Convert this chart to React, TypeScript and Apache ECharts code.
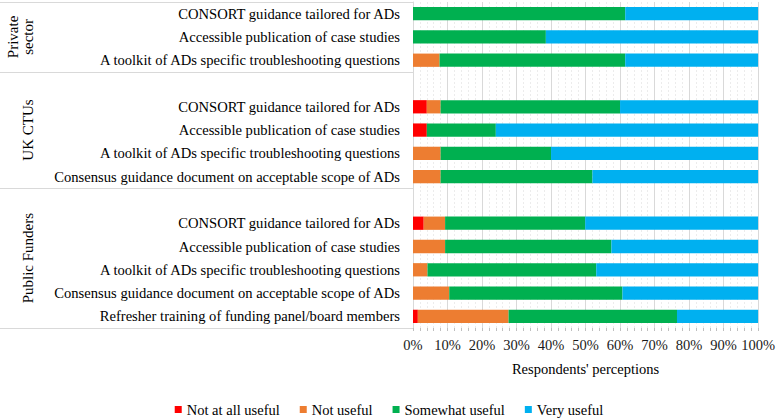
import React, { useEffect, useRef } from "react";
import * as echarts from "echarts";

const rowLabels: string[] = [
  "CONSORT guidance tailored for ADs",
  "Accessible publication of case studies",
  "A toolkit of ADs specific troubleshooting questions",
  "",
  "CONSORT guidance tailored for ADs",
  "Accessible publication of case studies",
  "A toolkit of ADs specific troubleshooting questions",
  "Consensus guidance document on acceptable scope of ADs",
  "",
  "CONSORT guidance tailored for ADs",
  "Accessible publication of case studies",
  "A toolkit of ADs specific troubleshooting questions",
  "Consensus guidance document on acceptable scope of ADs",
  "Refresher training of funding panel/board members",
];

const groups = [
  { name: "Private\nsector", first: 0, last: 2 },
  { name: "UK CTUs", first: 3, last: 7 },
  { name: "Public Funders", first: 8, last: 13 },
];

const seriesNames = ["Not at all useful", "Not useful", "Somewhat useful", "Very useful"];
const seriesColors = ["#FF0000", "#ED7D31", "#00B050", "#00B0F0"];

const notAtAllUseful = [0, 0, 0, null, 4, 4, 0, 0, null, 3.1, 0, 0, 0, 1.4];
const notUseful = [0, 0, 7.7, null, 4, 0, 8, 8, null, 6.2, 9.3, 4.2, 10.5, 26.3];
const somewhatUseful = [61.5, 38.5, 53.8, null, 52, 20, 32, 44, null, 40.6, 48.2, 48.9, 50.2, 48.8];
const veryUseful = [38.5, 61.5, 38.5, null, 40, 76, 60, 48, null, 50.1, 42.5, 46.9, 39.3, 23.5];

const xTicks = [0, 10, 20, 30, 40, 50, 60, 70, 80, 90, 100];

const FONT = "Liberation Serif, serif";

export default function App() {
  const ref = useRef<HTMLDivElement>(null);
  useEffect(() => {
    document.body.style.margin = "0";
    if (!ref.current) return;
    const chart = echarts.init(ref.current, null, { renderer: "svg" });
    const values = [notAtAllUseful, notUseful, somewhatUseful, veryUseful];
    const gridLeft = 413;
    const gridTop = 2;
    const gridBottom = 92;
    chart.setOption({
      animation: false,
      textStyle: { fontFamily: FONT },
      grid: { left: gridLeft, right: 19, top: gridTop, bottom: gridBottom, containLabel: false },
      legend: {
        bottom: 3,
        left: "center",
        padding: 0,
        itemWidth: 7,
        itemHeight: 7,
        itemGap: 20,
        icon: "rect",
        textStyle: { fontFamily: FONT, fontSize: 14.5, color: "#000" },
        data: seriesNames,
      },
      xAxis: {
        type: "value",
        min: xTicks[0],
        max: xTicks[xTicks.length - 1],
        interval: 10,
        name: "Respondents' perceptions",
        nameLocation: "middle",
        nameGap: 33,
        nameTextStyle: { fontFamily: FONT, fontSize: 14.5, color: "#000" },
        axisLine: { show: false },
        axisTick: { show: true, length: 3, lineStyle: { color: "#bfbfbf" } },
        minorTick: { show: true, splitNumber: 5, length: 3, lineStyle: { color: "#bfbfbf" } },
        axisLabel: {
          formatter: "{value}%",
          fontFamily: FONT,
          fontSize: 14.5,
          color: "#1a1a1a",
          margin: 9,
        },
        splitLine: { show: true, lineStyle: { color: "#d9d9d9", width: 1 } },
        minorSplitLine: { show: true, lineStyle: { color: "#ececec", type: [2, 2], width: 1 } },
      },
      yAxis: {
        type: "category",
        inverse: true,
        data: rowLabels,
        axisLine: { show: true, lineStyle: { color: "#d9d9d9" } },
        axisTick: { show: false },
        axisLabel: { fontFamily: FONT, fontSize: 14.6, color: "#000", margin: 13, interval: 0 },
        splitLine: { show: false },
      },
      series: seriesNames.map((name, i) => ({
        name,
        type: "bar",
        stack: "total",
        barWidth: "57%",
        itemStyle: { color: seriesColors[i] },
        data: values[i],
      })),
    });

    const half = (() => {
      const a = chart.convertToPixel({ yAxisIndex: 0 }, 0) as number;
      const b = chart.convertToPixel({ yAxisIndex: 0 }, 1) as number;
      return Math.abs(b - a) / 2;
    })();
    const yCenter = (i: number) => chart.convertToPixel({ yAxisIndex: 0 }, i) as number;
    const boundaries: number[] = [yCenter(0) - half];
    groups.forEach((g) => boundaries.push(yCenter(g.last) + half));
    const graphics: any[] = [];
    boundaries.forEach((y) => {
      graphics.push({
        type: "line",
        shape: { x1: 0, y1: Math.round(y) + 0.5, x2: gridLeft, y2: Math.round(y) + 0.5 },
        style: { stroke: "#d9d9d9", lineWidth: 1 },
        silent: true,
      });
    });
    groups.forEach((g) => {
      const yc = (yCenter(g.first) + yCenter(g.last)) / 2;
      graphics.push({
        type: "text",
        x: g.name.includes("\n") ? 20 : 28,
        y: yc,
        rotation: Math.PI / 2,
        style: {
          text: g.name,
          fontFamily: FONT,
          fontSize: 15,
          fill: "#000",
          align: "center",
          verticalAlign: "middle",
          lineHeight: 15,
        },
        silent: true,
      });
    });
    chart.setOption({ graphic: graphics });

    return () => chart.dispose();
  }, []);
  return <div ref={ref} style={{ width: 778, height: 420 }} />;
}
